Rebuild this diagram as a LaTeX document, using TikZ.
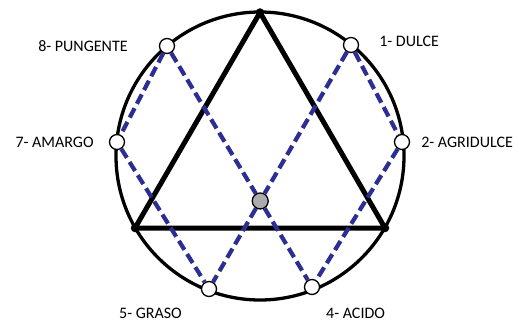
\documentclass[tikz,border=0pt]{standalone}
\usepackage{fontspec}
\setmainfont{Carlito}
\usetikzlibrary{positioning}
\definecolor{dashBlue}{RGB}{44,46,146}
\definecolor{hubGray}{RGB}{172,172,174}

\begin{document}
\begin{tikzpicture}[
    x=1pt, y=1pt,
    taste/.style={circle, draw, fill=white, line width=1.3pt, minimum size=15pt, inner sep=0pt},
    hub/.style={circle, draw, fill=hubGray, line width=1.3pt, minimum size=16pt, inner sep=0pt},
    corner/.style={circle, fill=black, minimum size=8.5pt, inner sep=0pt},
    tag/.style={font=\fontsize{16}{18}\selectfont, inner sep=0pt},
    link/.style={dashBlue, line width=4.2pt, dash pattern=on 10.5pt off 5pt},
    edge/.style={line width=5pt, line join=round}
]
    \useasboundingbox (0,0) rectangle (520,322);

    % Outer circle
    \coordinate (c) at (260,166);
    \draw[line width=3.3pt] (c) circle (144);

    % Triangle corners
    \node[corner] (top) at (260,309.5) {};
    \node[corner] (bl) at (135,94) {};
    \node[corner] (br) at (385,94) {};
    \draw[edge] (top.center) -- (bl.center) -- (br.center) -- cycle;

    % Tastes
    \node[taste] (p1) at (351,277) {};
    \node[taste] (p2) at (402,180) {};
    \node[taste] (p4) at (312,35) {};
    \node[taste] (p5) at (209,33) {};
    \node[taste] (p7) at (117,180) {};
    \node[taste] (p8) at (167,276) {};
    \node[hub] (mid) at (intersection of p8--p4 and p1--p5) {};

    % Dashed links
    \draw[link] (p8) -- (p7) -- (p5);
    \draw[link] (p1) -- (p2) -- (p4);
    \draw[link] (p8) -- (mid) -- (p4);
    \draw[link] (p1) -- (mid) -- (p5);

    % Labels
    \node[tag, left=31pt of p8] (t8) {8- PUNGENTE};
    \node[tag, left=15pt of p7] (t7) {7- AMARGO};
    \node[tag, right=20pt of p1, yshift=4pt] (t1) {1- DULCE};
    \node[tag, right=11pt of p2] (t2) {2- AGRIDULCE};
    \node[tag, anchor=west] (t5) at (119,9) {5- GRASO};
    \node[tag, anchor=west] (t4) at (326,9) {4- ACIDO};
\end{tikzpicture}
\end{document}
